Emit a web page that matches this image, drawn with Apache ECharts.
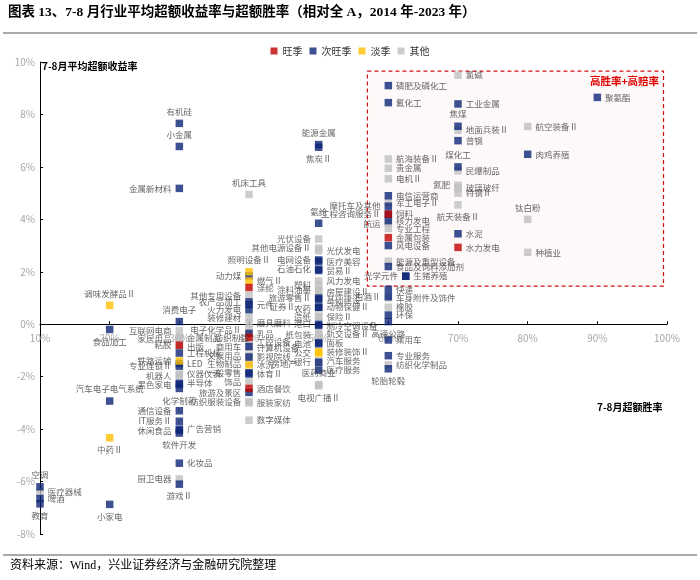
<!DOCTYPE html>
<html>
<head>
<meta charset="utf-8">
<script src="https://cdn.jsdelivr.net/npm/echarts@6.0.0/dist/echarts.min.js"></script>
<style>
  html, body { margin: 0; padding: 0; background: #fff; }
  #main { width: 700px; height: 580px; }
</style>
</head>
<body>
<div id="main"></div>
<script>
// 每行: [行业, 7-8月超额胜率(%), 7-8月平均超额收益率(%)]
var peak = [
  ['粘胶', 30, -0.8], ['涤纶', 40, 1.4], ['纺织制造', 40, -0.5], ['酒店餐饮', 40, -2.45],
  ['饲料', 60, 4.2], ['金属包装', 60, 3.3], ['水力发电', 70, 2.93]
];
var subPeak = [
  ['空调', 10, -6.2], ['啤酒', 10, -6.65], ['教育', 10, -6.85],
  ['食品加工', 20, -0.2], ['汽车电子电气系统', 20, -2.93], ['小家电', 20, -6.87],
  ['有机硅', 30, 7.66], ['小金属', 30, 6.78], ['金属新材料', 30, 5.18], ['消费电子', 30, 0.1],
  ['工程机械', 30, -1.1], ['LED', 30, -1.5], ['专业连锁Ⅱ', 30, -1.6], ['黑色家电', 30, -2.3],
  ['半导体', 30, -2.25], ['化学制药', 30, -2.45], ['通信设备', 30, -3.3], ['IT服务Ⅱ', 30, -3.7],
  ['休闲食品', 30, -4.05], ['广告营销', 30, -4.0], ['软件开发', 30, -4.15], ['化妆品', 30, -5.3],
  ['游戏Ⅱ', 30, -6.1],
  ['动力煤', 40, 1.85], ['农产品加工', 40, 0.85], ['元件', 40, 0.75], ['火力发电', 40, 0.55],
  ['乳品', 40, -0.35], ['商用车', 40, -0.85], ['影视院线', 40, -1.25], ['一般零售', 40, -1.85],
  ['体育Ⅱ', 40, -1.9], ['旅游及景区', 40, -2.6],
  ['能源金属', 50, 6.85], ['焦炭Ⅱ', 50, 6.75], ['氨纶', 50, 3.85], ['电网设备', 50, 2.45],
  ['医疗美容', 50, 2.4], ['石油石化', 50, 2.1], ['贸易Ⅱ', 50, 2.05], ['旅游零售Ⅱ', 50, 1.0],
  ['基础建设', 50, 0.95], ['证券Ⅱ', 50, 0.65], ['动物保健Ⅱ', 50, 0.65], ['港口', 50, 0.0],
  ['制冷空调设备', 50, -0.05], ['电池', 50, -0.75], ['面板', 50, -0.7], ['银行', 50, -1.45],
  ['医疗服务', 50, -1.75],
  ['磷肥及磷化工', 60, 9.1], ['氟化工', 60, 8.45], ['电信运营商', 60, 4.9], ['摩托车及其他', 60, 4.5],
  ['工程咨询服务Ⅱ', 60, 4.2], ['核力发电', 60, 3.95], ['风电设备', 60, 3.0], ['食品及饲料添加剂', 60, 2.2],
  ['光学元件', 62.5, 1.83], ['生猪养殖', 62.5, 1.83], ['快递', 60, 1.33], ['白酒Ⅱ', 60, 1.05],
  ['环保', 60, 0.35], ['高速公路', 60, 0.1], ['乘用车', 60, -0.6], ['专业服务', 60, -1.2],
  ['轮胎轮毂', 60, -1.7],
  ['工业金属', 70, 8.4], ['焦煤', 70, 7.55], ['普钢', 70, 7.0], ['煤化工', 70, 6.0], ['水泥', 70, 3.45],
  ['肉鸡养殖', 80, 6.48], ['聚氨酯', 90, 8.65]
];
var offPeak = [
  ['调味发酵品Ⅱ', 20, 0.72], ['中药Ⅱ', 20, -4.33], ['铁路运输', 30, -1.4],
  ['照明设备Ⅱ', 40, 2.0], ['燃气Ⅱ', 40, 1.65], ['冰洗', 40, -1.55],
  ['公交', 50, -1.1], ['装修装饰Ⅱ', 50, -1.05]
];
var others = [
  ['医疗器械', 10, -6.4],
  ['互联网电商', 30, -0.25], ['家居用品', 30, -0.55], ['金属制品', 30, -0.5], ['出版', 30, -0.85],
  ['机器人', 30, -1.95], ['仪器仪表', 30, -1.9], ['厨卫电器', 30, -5.9],
  ['机床工具', 40, 4.95], ['其他专用设备', 40, 1.1], ['装修建材', 40, 0.25], ['磨具磨料', 40, 0.05],
  ['电子化学品Ⅱ', 40, -0.2], ['工控设备', 40, -0.65], ['计算机设备', 40, -0.9], ['文娱用品', 40, -1.2],
  ['生物制品', 40, -1.5], ['饰品', 40, -2.2], ['纺织服装设备', 40, -2.95], ['服装家纺', 40, -3.0],
  ['数字媒体', 40, -3.66],
  ['光伏设备', 50, 3.25], ['其他电源设备Ⅱ', 50, 2.9], ['光伏发电', 50, 2.8], ['风力发电', 50, 1.65],
  ['塑料', 50, 1.5], ['涂料油墨', 50, 1.3], ['房屋建设Ⅱ', 50, 1.25], ['农药', 50, 0.6],
  ['造纸', 50, 0.3], ['保险Ⅱ', 50, 0.3], ['纸包装', 50, -0.4], ['轨交设备Ⅱ', 50, -0.35],
  ['汽车服务', 50, -1.4], ['房地产', 50, -1.5], ['医药商业', 50, -2.3], ['电视广播Ⅱ', 50, -2.35],
  ['航海装备Ⅱ', 60, 6.3], ['贵金属', 60, 5.95], ['电机Ⅱ', 60, 5.55], ['军工电子Ⅱ', 60, 4.65],
  ['航运', 60, 3.85], ['专业工程', 60, 3.65], ['能源及重型设备', 60, 2.4], ['车身附件及饰件', 60, 1.0],
  ['橡胶', 60, 0.65], ['纺织化学制品', 60, -1.55],
  ['氯碱', 70, 9.5], ['地面兵装Ⅱ', 70, 7.4], ['民爆制品', 70, 5.85], ['氮肥', 70, 5.3],
  ['玻璃玻纤', 70, 5.2], ['特钢Ⅱ', 70, 5.0], ['航天装备Ⅱ', 70, 4.55],
  ['航空装备Ⅱ', 80, 7.54], ['钛白粉', 80, 4.0], ['种植业', 80, 2.74]
];

// 高胜率+高赔率 区域 (胜率%, 收益率%)
var boxFrom = [57, 9.65];
var boxTo = [99.5, 1.45];

// 标签位置 (未列出的默认放右侧)
var labelSide = {
  top: ['空调', '调味发酵品Ⅱ', '汽车电子电气系统', '有机硅', '小金属', '消费电子', '机床工具',
        '照明设备Ⅱ', '能源金属', '氨纶', '医药商业', '焦煤', '煤化工', '钛白粉'],
  bottom: ['教育', '食品加工', '中药Ⅱ', '小家电', '化学制药', '软件开发', '游戏Ⅱ', '焦炭Ⅱ',
           '电视广播Ⅱ', '高速公路', '轮胎轮毂', '航天装备Ⅱ'],
  left: ['金属新材料', '互联网电商', '家居用品', '粘胶', '铁路运输', '专业连锁Ⅱ', '机器人', '黑色家电',
         '通信设备', 'IT服务Ⅱ', '休闲食品', '厨卫电器', '动力煤', '其他专用设备', '农产品加工',
         '火力发电', '装修建材', '电子化学品Ⅱ', '商用车', '文娱用品', '生物制品', '一般零售', '饰品',
         '旅游及景区', '纺织服装设备', '光伏设备', '其他电源设备Ⅱ', '电网设备', '石油石化', '塑料',
         '涂料油墨', '旅游零售Ⅱ', '证券Ⅱ', '农药', '造纸', '港口', '纸包装', '电池', '公交', '银行',
         '房地产', '摩托车及其他', '工程咨询服务Ⅱ', '航运', '光学元件', '白酒Ⅱ', '氮肥'],
  insideRight: ['纺织制造']
};
var labelGap = { '证券Ⅱ': 20, '房地产': 18 };

var sideOf = {};
Object.keys(labelSide).forEach(function (k) {
  labelSide[k].forEach(function (n) { sideOf[n] = k; });
});

function build(rows) {
  return rows.map(function (r) {
    return {
      name: r[0],
      value: [r[1], r[2]],
      label: { position: sideOf[r[0]] || 'right', distance: labelGap[r[0]] || 4 }
    };
  });
}

var font = 'Noto Sans CJK SC';
var yMin = -8, yMax = 10;
var gridTop = 62, gridBottom = 46;
var plotH = 580 - gridTop - gridBottom;
// x轴放在0%处
var xAxisOffset = -plotH * (0 - yMin) / (yMax - yMin);

var chart = echarts.init(document.getElementById('main'), null, { renderer: 'canvas' });

function scatter(name, rows, color) {
  return {
    name: name,
    type: 'scatter',
    symbol: 'rect',
    symbolSize: 7.5,
    itemStyle: { color: color },
    label: {
      show: true,
      formatter: '{b}',
      fontSize: 8.5,
      fontFamily: font,
      color: '#404040'
    },
    data: build(rows)
  };
}

var sOthers = scatter('其他', others, '#BFBFBF');
sOthers.markArea = {
  silent: true,
  itemStyle: {
    color: 'rgba(192,0,0,0.025)',
    borderColor: '#D01010',
    borderWidth: 1.2,
    borderType: [4, 3]
  },
  label: {
    show: true,
    position: 'insideTopRight',
    formatter: '高胜率+高赔率',
    color: '#E00000',
    fontWeight: 'bold',
    fontSize: 10.5,
    fontFamily: font,
    distance: 5
  },
  data: [[{ coord: boxFrom }, { coord: boxTo }]]
};

var option = {
  animation: false,
  backgroundColor: '#fff',
  textStyle: { fontFamily: font },
  grid: { left: 40, right: 33, top: gridTop, bottom: gridBottom },
  legend: {
    top: 41,
    left: 'center',
    icon: 'rect',
    itemWidth: 7,
    itemHeight: 7,
    itemGap: 7,
    textStyle: { fontSize: 10, color: '#333', fontFamily: font },
    data: ['旺季', '次旺季', '淡季', '其他']
  },
  xAxis: {
    type: 'value',
    min: 10,
    max: 100,
    interval: 10,
    offset: xAxisOffset,
    splitLine: { show: false },
    axisLine: { onZero: false, lineStyle: { color: '#000', width: 1 } },
    axisTick: { show: true, inside: true, length: 3, lineStyle: { color: '#000' } },
    axisLabel: { formatter: '{value}%', color: '#A6A6A6', fontSize: 10, margin: 9 }
  },
  yAxis: {
    type: 'value',
    min: yMin,
    max: yMax,
    interval: 2,
    splitLine: { show: false },
    axisLine: { show: true, onZero: false, lineStyle: { color: '#000', width: 1 } },
    axisTick: { show: true, inside: true, length: 3, lineStyle: { color: '#000' } },
    axisLabel: { formatter: '{value}%', color: '#A6A6A6', fontSize: 10, margin: 5 }
  },
  series: [
    sOthers,
    scatter('次旺季', subPeak, '#0C2577'),
    scatter('淡季', offPeak, '#FFC000'),
    scatter('旺季', peak, '#C00000')
  ],
  graphic: [
    {
      type: 'text', left: 8, top: 6,
      style: {
        text: '图表 13、7-8 月行业平均超额收益率与超额胜率（相对全 A，2014 年-2023 年）',
        font: 'bold 13.5px "Liberation Serif", "Noto Sans CJK SC"',
        fill: '#000'
      }
    },
    { type: 'line', shape: { x1: 3, y1: 33, x2: 697, y2: 33 }, style: { stroke: '#8C8C8C', lineWidth: 1.5 } },
    {
      type: 'text', left: 42, top: 61,
      style: { text: '7-8月平均超额收益率', font: 'bold 10px "Noto Sans CJK SC"', fill: '#000' }
    },
    {
      type: 'text', left: 597, top: 402,
      style: { text: '7-8月超额胜率', font: 'bold 10px "Noto Sans CJK SC"', fill: '#000' }
    },
    { type: 'line', shape: { x1: 3, y1: 555, x2: 697, y2: 555 }, style: { stroke: '#8C8C8C', lineWidth: 1.5 } },
    {
      type: 'text', left: 10, top: 560,
      style: {
        text: '资料来源：Wind，兴业证券经济与金融研究院整理',
        font: '12px "Liberation Serif", "Noto Sans CJK SC"',
        fill: '#000'
      }
    }
  ]
};

chart.setOption(option);
</script>
</body>
</html>
